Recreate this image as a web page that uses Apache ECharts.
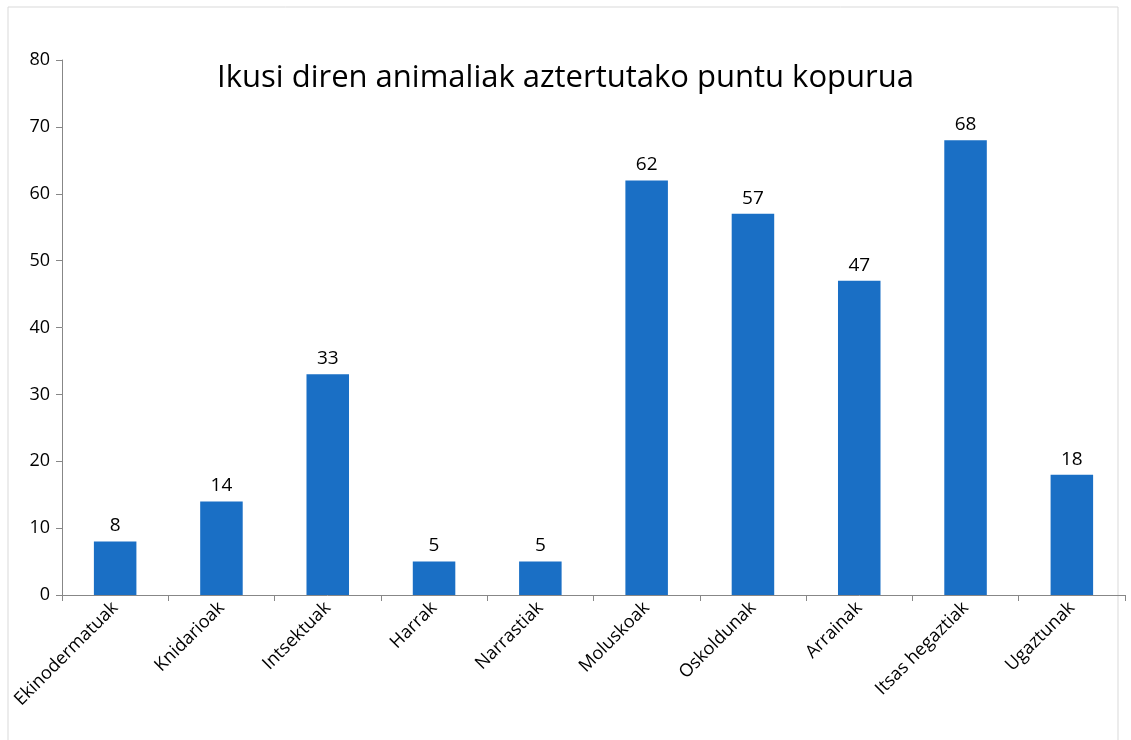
<!DOCTYPE html>
<html>
<head>
<meta charset="utf-8">
<script src="https://cdn.jsdelivr.net/npm/echarts@6/dist/echarts.min.js"></script>
<style>
  html, body { margin: 0; padding: 0; background: #fff; }
  #main { width: 1131px; height: 740px; }
</style>
</head>
<body>
<div id="main"></div>
<script>
// kategoriak eta balioak
var categories = ['Ekinodermatuak', 'Knidarioak', 'Intsektuak', 'Harrak', 'Narrastiak',
                  'Moluskoak', 'Oskoldunak', 'Arrainak', 'Itsas hegaztiak', 'Ugaztunak'];
var counts = [8, 14, 33, 5, 5, 62, 57, 47, 68, 18];
var yTicks = [0, 10, 20, 30, 40, 50, 60, 70, 80];

var myChart = echarts.init(document.getElementById('main'));

var font = '"Open Sans", "Liberation Sans", sans-serif';

var option = {
    animation: false,
    textStyle: { fontFamily: font },
    graphic: [{
        type: 'rect',
        shape: { x: 8, y: 7, width: 1110, height: 740 },
        style: { fill: 'none', stroke: '#d9d9d9', lineWidth: 1 }
    }],
    title: {
        text: 'Ikusi diren animaliak aztertutako puntu kopurua',
        left: 'center',
        top: 58,
        textStyle: { fontFamily: font, fontSize: 31, fontWeight: 'normal', color: '#000' }
    },
    grid: { left: 62, right: 6, top: 60, bottom: 145, containLabel: false },
    xAxis: {
        type: 'category',
        data: categories,
        axisLine: { lineStyle: { color: '#878787' } },
        axisTick: { show: true, alignWithLabel: false, length: 6, lineStyle: { color: '#878787' } },
        axisLabel: { rotate: 45, fontSize: 18, color: '#000', margin: 10, interval: 0 }
    },
    yAxis: {
        type: 'value',
        min: yTicks[0],
        max: yTicks[yTicks.length - 1],
        interval: 10,
        splitLine: { show: false },
        axisLine: { show: true, lineStyle: { color: '#878787' } },
        axisTick: { show: true, length: 6, lineStyle: { color: '#878787' } },
        axisLabel: { fontSize: 18, color: '#000', margin: 12 }
    },
    series: [{
        type: 'bar',
        data: counts,
        barWidth: '40%',
        itemStyle: { color: '#1a6fc5' },
        label: { show: true, position: 'top', fontSize: 19, color: '#000', distance: 6 }
    }]
};

myChart.setOption(option);
</script>
</body>
</html>
